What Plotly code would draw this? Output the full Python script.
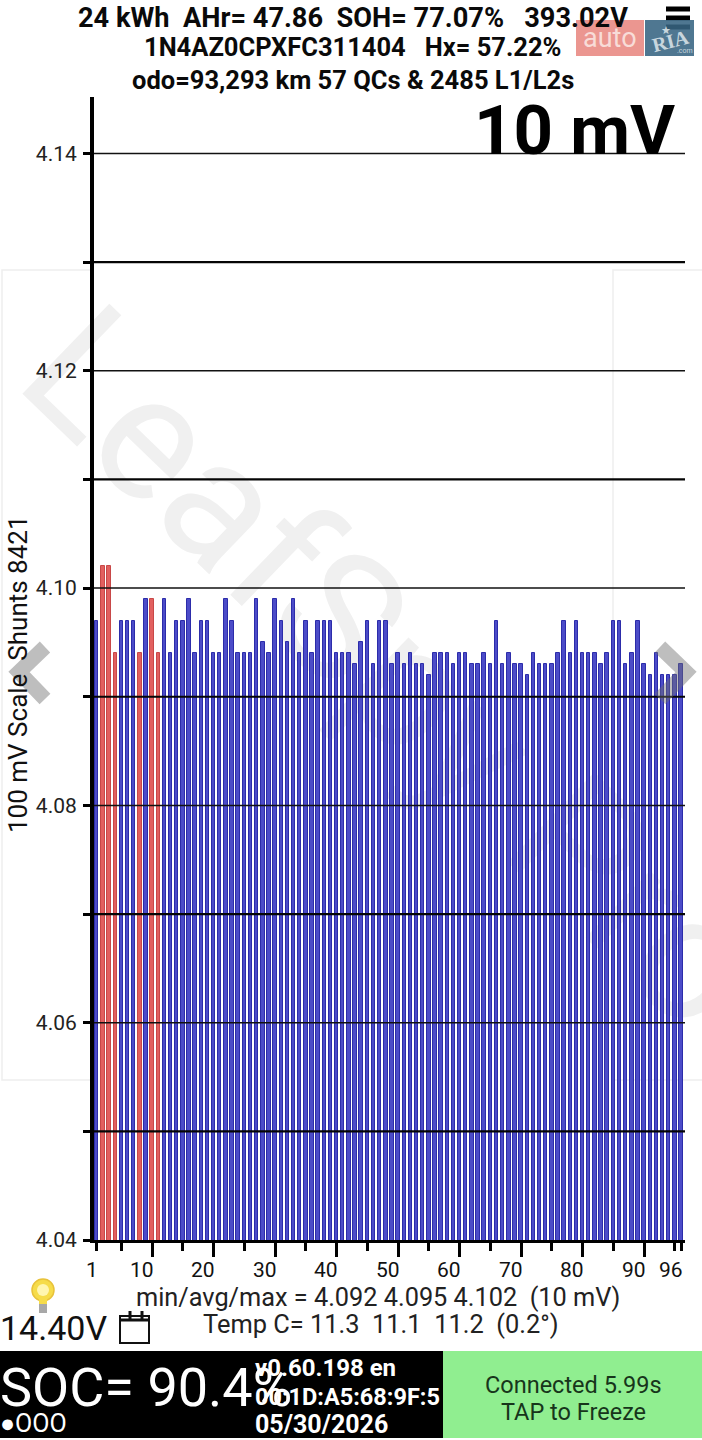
import plotly.graph_objects as go

PAGE_W = 702
PAGE_H = 1440

# cell voltages
cells = list(range(1, 97))
cell_volts = [
    4.097, 4.102, 4.102, 4.094, 4.097, 4.097, 4.097, 4.094, 4.099, 4.099, 4.094, 4.099,
    4.094, 4.097, 4.097, 4.099, 4.094, 4.097, 4.097, 4.094, 4.094, 4.099, 4.097, 4.094,
    4.094, 4.094, 4.099, 4.095, 4.094, 4.099, 4.097, 4.095, 4.099, 4.094, 4.097, 4.094,
    4.097, 4.097, 4.097, 4.094, 4.094, 4.094, 4.093, 4.095, 4.097, 4.093, 4.097, 4.097,
    4.093, 4.094, 4.093, 4.094, 4.093, 4.093, 4.092, 4.094, 4.094, 4.094, 4.093, 4.094,
    4.094, 4.093, 4.093, 4.094, 4.093, 4.097, 4.093, 4.094, 4.093, 4.093, 4.092, 4.094,
    4.093, 4.093, 4.093, 4.094, 4.097, 4.094, 4.097, 4.094, 4.094, 4.094, 4.093, 4.094,
    4.097, 4.097, 4.093, 4.094, 4.097, 4.093, 4.092, 4.094, 4.092, 4.092, 4.092, 4.093,
]
shunt_cells = [2, 3, 4, 8, 10, 11]

y_ticks = [4.04, 4.05, 4.06, 4.07, 4.08, 4.09, 4.10, 4.11, 4.12, 4.13, 4.14]
y_labels = ["4.04", "", "4.06", "", "4.08", "", "4.10", "", "4.12", "", "4.14"]
thin_grid = [4.06, 4.08, 4.10, 4.12, 4.14]
thick_grid = [4.05, 4.07, 4.09, 4.11, 4.13]

x_major = [10, 20, 30, 40, 50, 60, 70, 80, 90]
x_minor = [1, 5, 15, 25, 35, 45, 55, 65, 75, 85, 95, 96]
x_labels = [1, 10, 20, 30, 40, 50, 60, 70, 80, 90, 96]


def px(x):
    return x / PAGE_W


def py(y):
    return 1 - y / PAGE_H


def page_path(points):
    return "M " + " L ".join(f"{px(x):.5f},{py(y):.5f}" for x, y in points)


def add_box(fig, x0, y0, x1, y1, color, layer="above", line=None, line_width=0):
    fig.add_shape(
        type="rect", xref="paper", yref="paper",
        x0=px(x0), x1=px(x1), y0=py(y0), y1=py(y1),
        fillcolor=color, layer=layer,
        line=dict(color=line, width=line_width),
    )


def add_line(fig, points, color, width, layer="above"):
    fig.add_shape(
        type="path", xref="paper", yref="paper", path=page_path(points),
        line=dict(color=color, width=width), layer=layer,
    )


def add_text(fig, text, x, y, size, color="#111111", bold=False, anchor="center", angle=0, family="Roboto"):
    fig.add_annotation(
        text=f"<b>{text}</b>" if bold else text,
        xref="paper", yref="paper", x=px(x), y=py(y),
        xanchor=anchor, yanchor="middle", showarrow=False, textangle=angle,
        font=dict(family=family, size=size, color=color),
    )


def add_background(fig):
    # pale page cards and the watermark sit behind the bars
    add_line(fig, [(92, 270), (2, 270), (2, 1080), (92, 1080)], "#eeeeee", 1.5, layer="below")
    add_line(fig, [(702, 270), (613, 270), (613, 1080), (702, 1080)], "#eeeeee", 1.5, layer="below")
    fig.add_shape(
        type="rect", xref="paper", yref="paper", layer="below",
        x0=px(302), x1=px(502), y0=py(559), y1=py(759),
        line=dict(width=0), fillcolor="rgba(0,0,0,0)",
        label=dict(
            text="LeafSpy Pro", textangle=44, textposition="middle center",
            font=dict(family="Roboto", size=176, color="#f0f0f0"),
        ),
    )


def add_grid(fig):
    for value in thin_grid:
        fig.add_shape(type="line", xref="x domain", yref="y", x0=0, x1=1, y0=value, y1=value,
                      line=dict(color="#111111", width=1.5), layer="above")
    for value in thick_grid:
        fig.add_shape(type="line", xref="x domain", yref="y", x0=0, x1=1, y0=value, y1=value,
                      line=dict(color="#050505", width=2.2), layer="above")


def add_x_labels(fig):
    # labels end at their tick instead of being centred on it
    for cell in x_labels:
        fig.add_annotation(
            text=str(cell), xref="x", yref="paper", x=cell + 0.6, y=py(1270),
            xanchor="right", yanchor="middle", showarrow=False,
            font=dict(family="Roboto", size=21, color="#111111"),
        )


def add_header(fig):
    add_text(fig, "24 kWh  AHr= 47.86  SOH= 77.07%   393.02V", 353, 18, 27.2, "#0a0a0a", bold=True)
    add_text(fig, "1N4AZ0CPXFC311404   Hx= 57.22%", 353, 47, 25.5, "#0a0a0a", bold=True)
    add_text(fig, "odo=93,293 km 57 QCs &amp; 2485 L1/L2s", 353, 80, 25.5, "#0a0a0a", bold=True)
    add_text(fig, "10 mV", 677, 130, 69, "#000000", bold=True, anchor="right")

    # hamburger menu
    for y in [9, 18, 27]:
        add_line(fig, [(666, y), (690, y)], "#000000", 5)

    # auto.ria logo
    add_box(fig, 576, 20, 644, 56, "rgba(222,80,70,0.6)")
    add_box(fig, 645, 20, 694, 56, "rgba(55,100,130,0.88)")
    add_text(fig, "auto", 610, 38, 27, "#f8dcd8")
    add_text(fig, "★", 666, 30, 11, "#c8d6de")
    add_text(fig, "<b>RIA</b>", 670, 41, 20, "#c8d6de", angle=-14, family="Liberation Serif")
    add_text(fig, ".com", 685, 51, 7, "#c8d6de")


def add_chevrons(fig):
    gray = "rgba(110,110,110,0.45)"
    add_line(fig, [(45, 647), (19, 672), (45, 699)], gray, 15)
    add_line(fig, [(660, 647), (686, 672), (660, 699)], gray, 15)


def add_footer(fig):
    add_text(fig, "min/avg/max = 4.092 4.095 4.102  (10 mV)", 378, 1297, 25.3, "#222222")
    add_text(fig, "Temp C= 11.3  11.1  11.2  (0.2°)", 381, 1324, 25.4, "#222222")
    add_text(fig, "14.40V", -2, 1328, 34, "#111111", anchor="left")

    # bulb
    fig.add_shape(type="circle", xref="paper", yref="paper", layer="above",
                  x0=px(32), x1=px(54), y0=py(1279), y1=py(1301),
                  fillcolor="#f6dc4a", line=dict(color="#e8c23a", width=1.5))
    fig.add_shape(type="circle", xref="paper", yref="paper", layer="above",
                  x0=px(37), x1=px(49), y0=py(1284), y1=py(1296),
                  fillcolor="#fff6b0", line=dict(width=0))
    add_box(fig, 39, 1299, 47, 1304, "#f6dc4a")
    add_box(fig, 39, 1304, 47, 1313, "#a8a8a8")

    # calendar
    add_box(fig, 120, 1316, 149, 1343, "#ffffff", line="#111111", line_width=2)
    add_line(fig, [(120, 1320), (149, 1320)], "#111111", 3)
    add_line(fig, [(130, 1311), (130, 1319)], "#111111", 3)
    add_line(fig, [(142, 1311), (142, 1319)], "#111111", 3)

    # status strip
    add_box(fig, 0, 1351, 443, 1438, "#000000")
    add_box(fig, 443, 1351, 702, 1438, "#90ee90")
    add_text(fig, "SOC= 90.4%", -2, 1387, 54, "#ffffff", anchor="left")
    add_text(fig, "●OOO", -2, 1423, 25, "#ffffff", anchor="left")
    add_text(fig, "v0.60.198 en", 253, 1368, 24, "#ffffff", bold=True, anchor="left")
    add_text(fig, "00:1D:A5:68:9F:5", 253, 1397, 23.5, "#ffffff", bold=True, anchor="left")
    add_text(fig, "05/30/2026", 253, 1424, 25, "#ffffff", bold=True, anchor="left")
    add_text(fig, "Connected 5.99s", 573, 1385, 23.5, "#17351b")
    add_text(fig, "TAP to Freeze", 573, 1412, 23.5, "#17351b")


def build_chart():
    fig = go.Figure()
    fig.add_trace(go.Bar(
        x=cells, y=cell_volts, width=0.56,
        marker=dict(
            color=["#e2605f" if c in shunt_cells else "#4c4cc8" for c in cells],
            line=dict(color=["#c84848" if c in shunt_cells else "#2c2caa" for c in cells], width=1),
        ),
    ))

    add_background(fig)
    add_grid(fig)
    add_x_labels(fig)
    add_header(fig)
    add_chevrons(fig)
    add_footer(fig)

    add_text(fig, "100 mV Scale  Shunts 8421", 18, 674, 26, "#111111", angle=-90)

    fig.update_xaxes(
        domain=[px(94), px(685)], range=[0.55, 96.65], automargin=False,
        tickmode="array", tickvals=x_major, showticklabels=False,
        ticks="outside", ticklen=14, tickwidth=2.5, tickcolor="#000000",
        minor=dict(tickmode="array", tickvals=x_minor, ticks="outside", ticklen=8,
                   tickwidth=2.5, tickcolor="#000000", showgrid=False),
        showgrid=False, zeroline=False, showline=True, linecolor="#000000", linewidth=2.5,
    )
    fig.update_yaxes(
        domain=[py(1240), py(97)], range=[4.04, 4.1452], automargin=False,
        tickmode="array", tickvals=y_ticks, ticktext=y_labels,
        ticks="outside", ticklen=7, tickwidth=2.5, tickcolor="#000000", ticklabelstandoff=2,
        tickfont=dict(family="Roboto", size=21, color="#222222"),
        showgrid=False, zeroline=False, showline=True, linecolor="#000000", linewidth=4,
    )
    fig.update_layout(
        width=PAGE_W, height=PAGE_H,
        margin=dict(l=0, r=0, t=0, b=0),
        paper_bgcolor="#ffffff", plot_bgcolor="rgba(0,0,0,0)",
        showlegend=False, bargap=0,
        font=dict(family="Roboto"),
    )
    return fig


if __name__ == "__main__":
    fig = build_chart()
    fig.write_html("out.html", config={"displayModeBar": False},
                   post_script="document.body.style.margin='0';")
